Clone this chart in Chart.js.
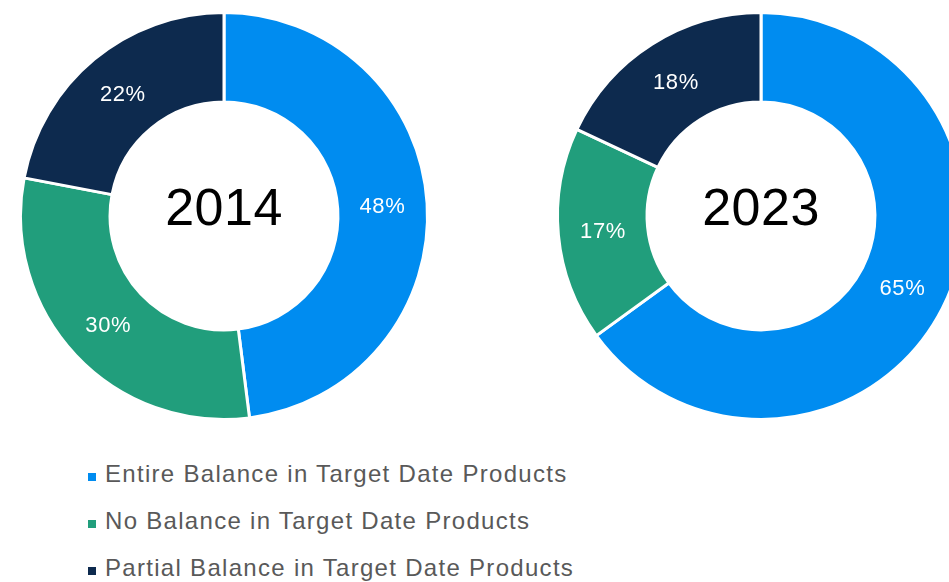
<!DOCTYPE html>
<html>
<head>
<meta charset="utf-8">
<script src="https://cdn.jsdelivr.net/npm/chart.js@4/dist/chart.umd.min.js"></script>
<style>
  html, body { margin: 0; padding: 0; width: 949px; height: 582px; overflow: hidden; background: #fff; }
  .donut { position: absolute; width: 420px; height: 420px; }
  #chart2014 { left: 14px; top: 6px; }
  #chart2023 { left: 551px; top: 6px; }
  #legend { position: absolute; left: 88px; top: 455px; font-family: "Liberation Sans", Arial, sans-serif; font-size: 24px; letter-spacing: 1.3px; color: #595959; }
  #legend div { height: 47px; line-height: 38px; white-space: nowrap; }
  #legend span.box { display: inline-block; width: 8px; height: 8px; margin-right: 9px; vertical-align: 1px; }
</style>
</head>
<body>
<div class="donut" id="chart2014"><canvas id="c2014" width="420" height="420"></canvas></div>
<div class="donut" id="chart2023"><canvas id="c2023" width="420" height="420"></canvas></div>
<div id="legend"></div>
<script>
const categories = ['Entire Balance in Target Date Products', 'No Balance in Target Date Products', 'Partial Balance in Target Date Products'];
const values2014 = [48, 30, 22];
const values2023 = [65, 17, 18];
const colors = ['#008CF0', '#219E7C', '#0D2A4E'];

const sliceLabels = {
  id: 'sliceLabels',
  afterDatasetsDraw(chart) {
    const ctx = chart.ctx;
    const data = chart.data.datasets[0].data;
    ctx.save();
    ctx.fillStyle = '#fff';
    ctx.font = '22px "Liberation Sans", Arial, sans-serif';
    ctx.letterSpacing = '0.6px';
    ctx.textAlign = 'center';
    ctx.textBaseline = 'middle';
    chart.getDatasetMeta(0).data.forEach((arc, i) => {
      const p = arc.tooltipPosition();
      ctx.fillText(data[i] + '%', p.x, p.y + 1);
    });
    ctx.restore();
  }
};

const centerText = {
  id: 'centerText',
  afterDraw(chart, args, opts) {
    const ctx = chart.ctx;
    const arc = chart.getDatasetMeta(0).data[0];
    ctx.save();
    ctx.fillStyle = '#000';
    ctx.font = '52px "Liberation Sans", Arial, sans-serif';
    ctx.letterSpacing = '0.5px';
    ctx.textAlign = 'center';
    ctx.textBaseline = 'middle';
    ctx.fillText(opts.text, arc.x, arc.y - 5);
    ctx.restore();
  }
};

function makeDonut(id, values, year) {
  new Chart(document.getElementById(id), {
    type: 'doughnut',
    data: {
      labels: categories,
      datasets: [{
        data: values,
        backgroundColor: colors,
        borderColor: '#fff',
        borderWidth: 3,
      }],
    },
    options: {
      responsive: false,
      animation: false,
      cutout: '56%',
      layout: { padding: 5 },
      plugins: {
        legend: { display: false },
        tooltip: { enabled: false },
        centerText: { text: year },
      },
    },
    plugins: [sliceLabels, centerText],
  });
}

makeDonut('c2014', values2014, '2014');
makeDonut('c2023', values2023, '2023');

document.getElementById('legend').innerHTML = categories.map((c, i) =>
  `<div><span class="box" style="background:${colors[i]}"></span>${c}</div>`
).join('');
</script>
</body>
</html>
